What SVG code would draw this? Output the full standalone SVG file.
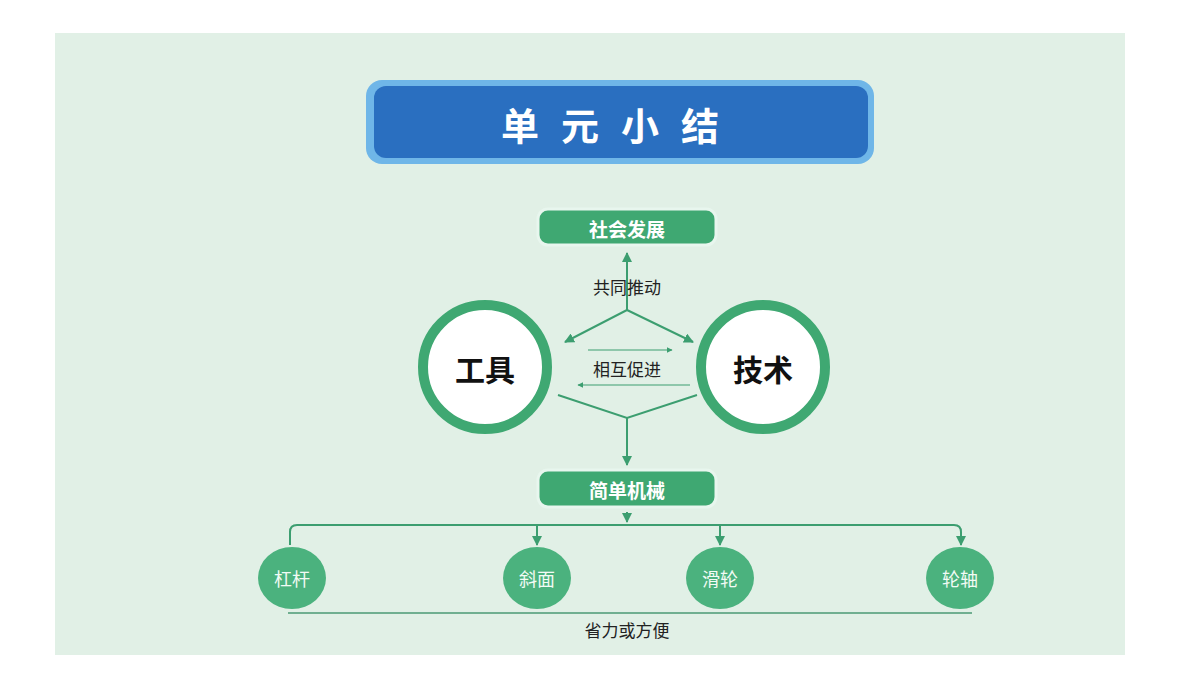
<svg xmlns="http://www.w3.org/2000/svg" width="1200" height="675" viewBox="0 0 1200 675">
<defs>
<style>
text{font-family:"Noto Sans CJK SC","Noto Sans",sans-serif;text-anchor:middle;dominant-baseline:central}
.box{fill:#3fa872;stroke:#e8f6ee;stroke-width:3}
.bt{fill:#fff;font-size:19px;font-weight:bold}
.ln{stroke:#3c9e70;stroke-width:2;fill:none}
.sm{fill:#4bb27e}
.st{fill:#f2fbf5;font-size:18px}
.lb{fill:#222;font-size:17px}
</style>
<marker id="a" viewBox="0 0 10 10" refX="9" refY="5" markerWidth="5" markerHeight="5" orient="auto"><path d="M0,0L10,5L0,10z" fill="#3c9e70"/></marker>
</defs>
<rect width="1200" height="675" fill="#fff"/>
<rect x="55" y="33" width="1070" height="622" fill="#e1f0e6"/>
<g id="title">
<rect x="366" y="80" width="508" height="84" rx="16" fill="#6fb6e8"/>
<rect x="374" y="86" width="494" height="72" rx="12" fill="#2a6fc0"/>
<text x="621" y="123" fill="#fff" font-size="38" font-weight="bold" letter-spacing="22">单元小结</text>
</g>
<g id="connectors" class="ln">
<path d="M627 310V253" marker-end="url(#a)"/>
<path d="M627 310L565 342" marker-end="url(#a)"/>
<path d="M627 310L693 342" marker-end="url(#a)"/>
<path d="M588 350H672" marker-end="url(#a)" stroke-width="1.2"/>
<path d="M690 385H578" marker-end="url(#a)" stroke-width="1.2"/>
<path d="M558 395L627 418L697 395"/>
<path d="M627 418V465" marker-end="url(#a)"/>
<path d="M627 512V522" marker-end="url(#a)"/>
<path d="M290 545V532Q290 525 297 525H954Q961 525 961 532V545" marker-end="url(#a)"/>
<path d="M537 525V545" marker-end="url(#a)"/>
<path d="M720 525V545" marker-end="url(#a)"/>
<path d="M288 613H972" stroke="#4a9a75" stroke-width="1.5"/>
</g>
<g id="n-shehui"><rect class="box" x="538" y="209" width="178" height="36" rx="10"/><text class="bt" x="627" y="228">社会发展</text></g>
<text class="lb" x="627" y="286">共同推动</text>
<g id="n-gongju"><circle cx="485" cy="367" r="62" fill="#fff" stroke="#3fa872" stroke-width="10"/><text x="485" y="368" font-size="30" font-weight="bold" fill="#111">工具</text></g>
<g id="n-jishu"><circle cx="763" cy="367" r="62" fill="#fff" stroke="#3fa872" stroke-width="10"/><text x="763" y="368" font-size="30" font-weight="bold" fill="#111">技术</text></g>
<text class="lb" x="627" y="368">相互促进</text>
<g id="n-jianxie"><rect class="box" x="538" y="470" width="178" height="37" rx="10"/><text class="bt" x="627" y="489">简单机械</text></g>
<g id="n-ganggan"><ellipse class="sm" cx="292" cy="578" rx="34" ry="31"/><text class="st" x="292" y="578">杠杆</text></g>
<g id="n-xiemian"><ellipse class="sm" cx="537" cy="578" rx="34" ry="31"/><text class="st" x="537" y="578">斜面</text></g>
<g id="n-hualun"><ellipse class="sm" cx="720" cy="578" rx="34" ry="31"/><text class="st" x="720" y="578">滑轮</text></g>
<g id="n-lunzhou"><ellipse class="sm" cx="960" cy="578" rx="34" ry="31"/><text class="st" x="960" y="578">轮轴</text></g>
<text class="lb" x="627" y="629">省力或方便</text>
</svg>
